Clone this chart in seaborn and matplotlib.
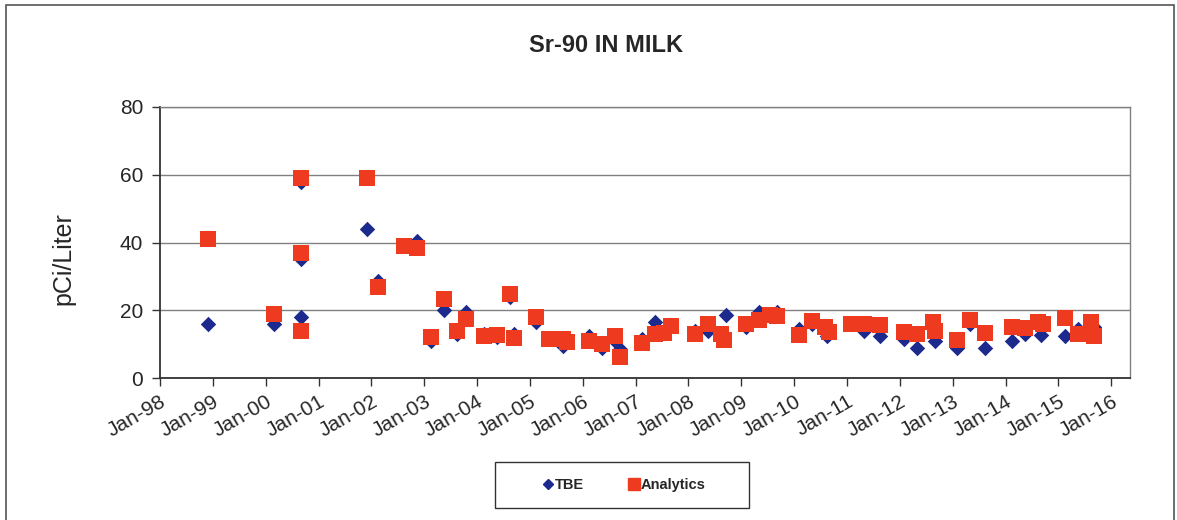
import pandas as pd
import matplotlib
matplotlib.use("Agg")
import matplotlib.pyplot as plt
import matplotlib.dates as mdates
from matplotlib.patches import Rectangle
from matplotlib.lines import Line2D
import seaborn as sns

# TBE results (sample month, pCi/L)
tbe_dates = ["1998-12-01", "2000-03-01", "2000-09-01", "2000-09-01", "2000-09-01",
             "2001-12-01", "2002-02-15", "2002-11-15", "2003-02-15", "2003-05-15",
             "2003-08-15", "2003-10-15", "2004-02-15", "2004-05-15", "2004-08-15",
             "2004-09-15", "2005-02-15", "2005-05-15", "2005-08-15", "2005-09-15",
             "2006-02-15", "2006-05-15", "2006-08-15", "2006-09-15", "2007-02-15",
             "2007-05-15", "2007-09-01", "2008-02-15", "2008-05-15", "2008-09-15",
             "2009-02-01", "2009-05-01", "2009-09-01", "2010-02-01", "2010-05-01",
             "2010-08-15", "2011-02-01", "2011-05-01", "2011-08-15", "2012-02-01",
             "2012-05-01", "2012-09-01", "2013-02-01", "2013-05-01", "2013-08-15",
             "2014-02-15", "2014-05-15", "2014-09-01", "2015-02-15", "2015-05-15",
             "2015-09-01"]
tbe_values = [16, 16, 58, 35, 18,
              44, 28.5, 40.5, 11, 20,
              13, 19.5, 13, 12, 24,
              13, 16.5, 11.5, 9.5, 11,
              12.5, 9, 11, 8.5, 11.5,
              16.5, 15.5, 14, 14, 18.5,
              15, 19.5, 19.5, 14.5, 16,
              12.5, 16, 14, 12.5, 11.5,
              9, 11, 9, 16, 9,
              11, 13, 12.8, 12.3, 14.5,
              15]

# Analytics results (sample month, pCi/L)
ana_dates = ["1998-12-01", "2000-03-01", "2000-09-01", "2000-09-01", "2000-09-01",
             "2001-12-01", "2002-02-15", "2002-08-15", "2002-11-15", "2003-02-15",
             "2003-05-15", "2003-08-15", "2003-10-15", "2004-02-15", "2004-05-15",
             "2004-08-15", "2004-09-15", "2005-02-15", "2005-05-15", "2005-08-15",
             "2005-09-15", "2006-02-15", "2006-05-15", "2006-08-15", "2006-09-15",
             "2007-02-15", "2007-05-15", "2007-07-15", "2007-09-01", "2008-02-15",
             "2008-05-15", "2008-08-15", "2008-09-01", "2009-02-01", "2009-05-01",
             "2009-07-15", "2009-09-01", "2010-02-01", "2010-05-01", "2010-08-01",
             "2010-09-01", "2011-02-01", "2011-05-01", "2011-08-15", "2012-02-01",
             "2012-05-01", "2012-08-15", "2012-09-01", "2013-02-01", "2013-05-01",
             "2013-08-15", "2014-02-15", "2014-05-15", "2014-08-15", "2014-09-15",
             "2015-02-15", "2015-05-15", "2015-08-15", "2015-09-01"]
ana_values = [41, 19, 59, 37, 14,
              59, 27, 39, 38.3, 12,
              23.3, 14, 17.5, 12.3, 12.8,
              24.8, 11.7, 18, 11.5, 11.5,
              10.7, 11, 10, 12.3, 6.2,
              10.2, 13, 13.2, 15.3, 13,
              16, 13, 11.3, 16, 17,
              18.6, 18.3, 12.8, 16.8, 15,
              13.5, 16, 16, 15.5, 13.6,
              13, 16.4, 14, 11.2, 17.2,
              13.2, 15.2, 14.8, 16.5, 15.8,
              17.6, 13, 16.4, 12.5]

yticks = [0, 20, 40, 60, 80]

tbe = pd.DataFrame({"date": pd.to_datetime(tbe_dates), "value": tbe_values})
ana = pd.DataFrame({"date": pd.to_datetime(ana_dates), "value": ana_values})

sns.set_style("white")
plt.rcParams['font.family'] = ['Liberation Sans', 'DejaVu Sans']

W, H = 1177, 520
fig = plt.figure(figsize=(W / 100, H / 100), dpi=100)
ax = fig.add_axes([160 / W, 1 - 378 / H, (1130 - 160) / W, (378 - 107) / H])

blue = '#1B2A8C'
red = '#EE3B1F'

sns.scatterplot(data=tbe, x="date", y="value", marker="D", s=62, color=blue,
                linewidth=0, ax=ax, zorder=3)
sns.scatterplot(data=ana, x="date", y="value", marker="s", s=132, color=red,
                linewidth=0, ax=ax, zorder=4)

ax.set_ylim(0, 80)
ax.set_yticks(yticks)
ax.set_xlim(pd.Timestamp("1998-01-01"), pd.Timestamp("2016-05-10"))
ax.xaxis.set_major_locator(mdates.YearLocator())
ax.xaxis.set_major_formatter(mdates.DateFormatter("%b-%y"))
ax.yaxis.grid(True, color='#808080', linewidth=1)
ax.set_axisbelow(True)

ax.tick_params(axis='y', direction='out', length=6, width=1, color='#333333',
               labelsize=15, pad=6, left=True)
ax.tick_params(axis='x', direction='out', length=6, width=1, color='#333333',
               labelsize=15, pad=4, bottom=True)
for lab in ax.get_xticklabels():
    lab.set_rotation(30)
    lab.set_ha('right')
    lab.set_va('top')
    lab.set_rotation_mode('anchor')

for side in ['left', 'bottom']:
    ax.spines[side].set_color('#333333')
    ax.spines[side].set_linewidth(1.3)
for side in ['top', 'right']:
    ax.spines[side].set_color('#808080')
    ax.spines[side].set_linewidth(1)

ax.set_xlabel("")
ax.set_ylabel("pCi/Liter", fontsize=18)
ax.yaxis.set_label_coords(-0.087, 0.44)
fig.text(606 / W, 1 - 45 / H, "Sr-90 IN MILK", ha='center', va='center',
         fontsize=17, fontweight='bold')

# outer chart border and legend box
fig.patches.append(Rectangle((6 / W, -0.02), (1174 - 6) / W, 1.02 - 5 / H,
                             transform=fig.transFigure, fill=False,
                             edgecolor='#555555', linewidth=1.2))
fig.patches.append(Rectangle((495 / W, 1 - 508 / H), (749 - 495) / W, 46 / H,
                             transform=fig.transFigure, fill=False,
                             edgecolor='#333333', linewidth=1))

handles = [Line2D([], [], marker='D', linestyle='', color=blue, markersize=5),
           Line2D([], [], marker='s', linestyle='', color=red, markersize=8)]
fig.legend(handles, ["TBE", "Analytics"], loc='center',
           bbox_to_anchor=(624 / W, 1 - 485 / H), ncol=2, frameon=False,
           prop={'weight': 'bold', 'size': 10.5}, handlelength=0.8,
           handletextpad=0.1, columnspacing=3.0)

fig.savefig("out.png", dpi=100)
